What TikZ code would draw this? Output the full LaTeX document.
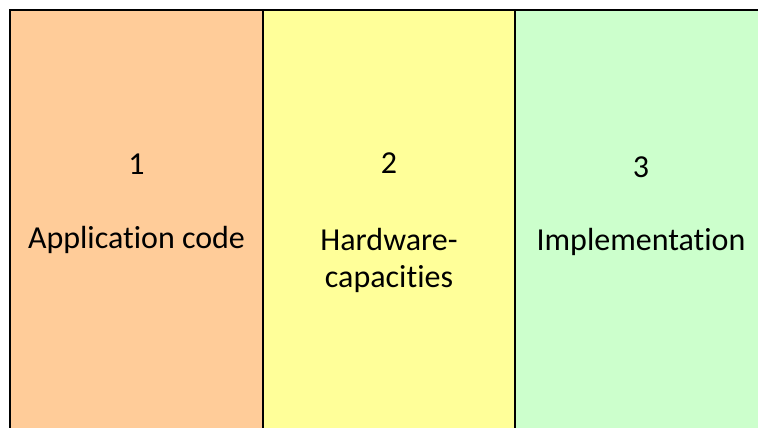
\documentclass[tikz,border=0pt]{standalone}
\usepackage{fontspec}
\setmainfont[Ligatures={NoCommon}]{Carlito}
\definecolor{colA}{HTML}{FFCC99}
\definecolor{colB}{HTML}{FFFF99}
\definecolor{colC}{HTML}{CCFFCC}
\begin{document}
\begin{tikzpicture}[x=1pt,y=1pt,
  col/.style={draw=black,line width=2pt},
  lbl/.style={anchor=base,font=\fontsize{32}{34}\selectfont,text=black,inner sep=0pt,align=center}]
\useasboundingbox (0,0) rectangle (758,-428);
\fill[white] (0,0) rectangle (758,-428);
\begin{scope}
\clip (0,0) rectangle (758,-428);
\path[col,fill=colA] (10,-10) rectangle (263,-450);
\path[col,fill=colB] (263,-10) rectangle (515,-450);
\path[col,fill=colC] (515,-10) rectangle (768,-450);
\end{scope}
\node[lbl] (n1) at (136.5,-174) {1};
\node[lbl] (t1) at (136.5,-248) {Application code};
\node[lbl] (n2) at (389,-173) {2};
\node[lbl] (t2) at (389,-250) {Hardware-};
\node[lbl] (t2b) at (389,-287) {capacities};
\node[lbl] (n3) at (641,-177) {3};
\node[lbl] (t3) at (641,-250) {Implementation};
\end{tikzpicture}
\end{document}
